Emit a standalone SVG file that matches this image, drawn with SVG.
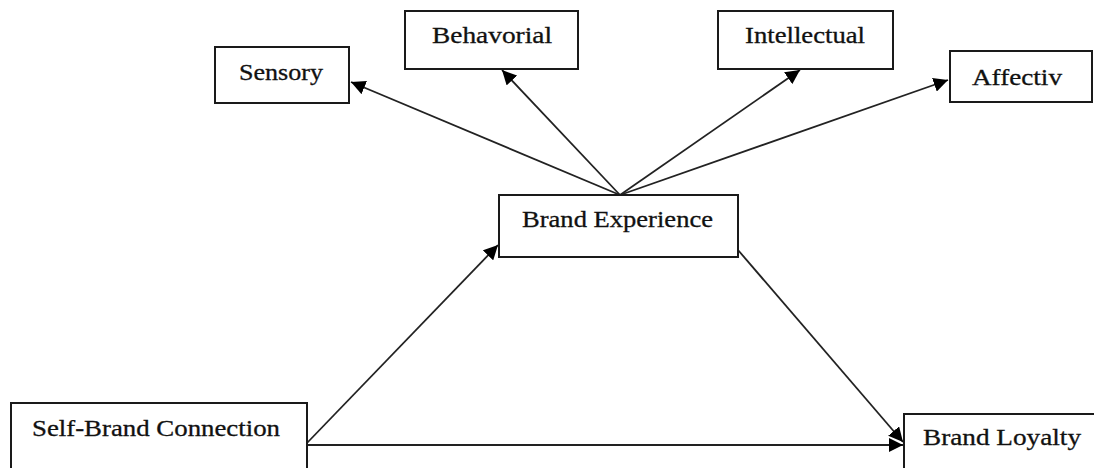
<svg xmlns="http://www.w3.org/2000/svg" width="1094" height="468" viewBox="0 0 1094 468">
  <style>
    .box { fill: #ffffff; stroke: #1a1a1a; stroke-width: 2; }
    .lbl { font-family: "Liberation Serif", "Times New Roman", serif; font-size: 23px; fill: #111111; stroke: #111111; stroke-width: 0.3; }
    .edge { stroke: #222222; stroke-width: 1.8; fill: none; marker-end: url(#arrow); }
  </style>
  <defs>
    <marker id="arrow" viewBox="0 0 10 10" refX="10" refY="5" markerWidth="8" markerHeight="8" markerUnits="strokeWidth" orient="auto">
      <path d="M0,0 L10,5 L0,10 z" fill="#000000"/>
    </marker>
  </defs>

  <rect width="1094" height="468" fill="#ffffff"/>

  <!-- connectors -->
  <g id="connectors">
    <line class="edge" x1="620" y1="195" x2="351" y2="82"/>
    <line class="edge" x1="620" y1="195" x2="502" y2="70"/>
    <line class="edge" x1="620" y1="195" x2="800" y2="70"/>
    <line class="edge" x1="620" y1="195" x2="948" y2="80"/>
    <line class="edge" x1="307" y1="443" x2="498" y2="245"/>
    <line class="edge" x1="738" y1="250" x2="903" y2="442"/>
    <line class="edge" x1="307" y1="445" x2="903" y2="445"/>
  </g>

  <!-- nodes -->
  <g id="sensory">
    <rect class="box" x="215" y="47" width="134" height="56"/>
    <text class="lbl" x="239" y="80" textLength="84" lengthAdjust="spacingAndGlyphs">Sensory</text>
  </g>
  <g id="behavioral">
    <rect class="box" x="405" y="11" width="173" height="58"/>
    <text class="lbl" x="432" y="43" textLength="120" lengthAdjust="spacingAndGlyphs">Behavorial</text>
  </g>
  <g id="intellectual">
    <rect class="box" x="718" y="11" width="175" height="58"/>
    <text class="lbl" x="745" y="43" textLength="120" lengthAdjust="spacingAndGlyphs">Intellectual</text>
  </g>
  <g id="affectiv">
    <rect class="box" x="950" y="51" width="142" height="51"/>
    <text class="lbl" x="972" y="85" textLength="90" lengthAdjust="spacingAndGlyphs">Affectiv</text>
  </g>
  <g id="brand-experience">
    <rect class="box" x="499" y="195" width="239" height="62"/>
    <text class="lbl" x="522" y="227" textLength="191" lengthAdjust="spacingAndGlyphs">Brand Experience</text>
  </g>
  <g id="self-brand-connection">
    <rect class="box" x="11" y="403" width="296" height="80"/>
    <text class="lbl" x="32" y="436" textLength="248" lengthAdjust="spacingAndGlyphs">Self-Brand Connection</text>
  </g>
  <g id="brand-loyalty">
    <rect class="box" x="904" y="414" width="200" height="70"/>
    <text class="lbl" x="923" y="445" textLength="158" lengthAdjust="spacingAndGlyphs">Brand Loyalty</text>
  </g>
</svg>
